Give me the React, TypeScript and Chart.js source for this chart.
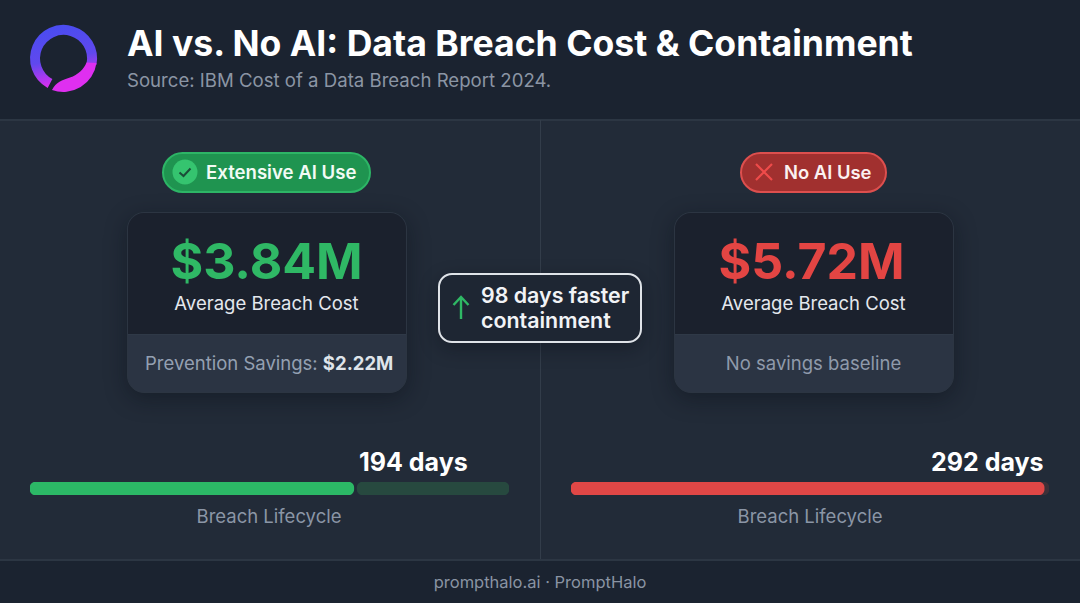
import { useEffect, useRef, type CSSProperties } from "react";
import { Chart, registerables } from "chart.js";

Chart.register(...registerables);

const categories = ["Breach Lifecycle"];
const aiDays = [194];
const noAiDays = [292];
// unfilled part of each track, in days (start, end)
const aiTrack: [number, number][] = [[196, 287]];
const noAiTrack: [number, number][] = [[0, 295]];
const aiAxisMax = 287;
const noAiAxisMax = 295;

const FONT = "Inter, 'Noto Sans', sans-serif";

function LifecycleBar({
  days,
  track,
  axisMax,
  color,
  trackColor,
  style,
}: {
  days: number[];
  track: [number, number][];
  axisMax: number;
  color: string;
  trackColor: string;
  style: CSSProperties;
}) {
  const chartRef = useRef<HTMLCanvasElement>(null);

  useEffect(() => {
    if (!chartRef.current) return;
    const chart = new Chart(chartRef.current, {
      type: "bar",
      data: {
        labels: categories,
        datasets: [
          {
            label: "Days",
            data: days,
            backgroundColor: color,
            order: 1,
            grouped: false,
            barPercentage: 1,
            categoryPercentage: 1,
            borderRadius: 6,
            borderSkipped: false,
          },
          {
            label: "Track",
            data: track as any,
            backgroundColor: trackColor,
            order: 2,
            grouped: false,
            barPercentage: 1,
            categoryPercentage: 1,
            borderRadius: 6,
            borderSkipped: false,
          },
        ],
      },
      options: {
        indexAxis: "y",
        animation: false,
        responsive: false,
        devicePixelRatio: 2,
        layout: { padding: 0 },
        plugins: { legend: { display: false }, tooltip: { enabled: false } },
        scales: {
          x: { display: false, min: 0, max: axisMax },
          y: { display: false },
        },
      },
    });
    return () => chart.destroy();
  }, []);

  return (
    <canvas
      ref={chartRef}
      width={style.width as number}
      height={style.height as number}
      style={{ position: "absolute", ...style }}
    />
  );
}

function Text({
  x,
  y,
  size,
  weight = 400,
  color,
  align = "left",
  children,
}: {
  x: number;
  y: number;
  size: number;
  weight?: number;
  color: string;
  align?: "left" | "center";
  children: React.ReactNode;
}) {
  return (
    <div
      style={{
        position: "absolute",
        left: x,
        top: y,
        transform: align === "center" ? "translate(-50%, -50%)" : "translateY(-50%)",
        fontSize: size,
        fontWeight: weight,
        color,
        whiteSpace: "nowrap",
        lineHeight: 1.2,
      }}
    >
      {children}
    </div>
  );
}

function Card({
  x,
  valueX,
  value,
  valueColor,
  bottom,
}: {
  x: number;
  valueX: number;
  value: string;
  valueColor: string;
  bottom: React.ReactNode;
}) {
  return (
    <>
      <div
        style={{
          position: "absolute",
          left: x,
          top: 212,
          width: 280,
          height: 181,
          boxSizing: "border-box",
          borderRadius: 17,
          overflow: "hidden",
          background: "#2b3443",
          border: "1px solid #2c3542",
          boxShadow: "0 6px 22px rgba(8,12,20,0.4)",
        }}
      >
        <div
          style={{
            height: 122,
            background: "#1b212d",
            borderBottom: "1px solid #2f3947",
            boxSizing: "border-box",
          }}
        />
      </div>
      <Text x={valueX} y={260.5} size={50} weight={700} color={valueColor} align="center">
        {value}
      </Text>
      <Text x={x + 139.5} y={303} size={18.5} color="#e4e8ee" align="center">
        Average Breach Cost
      </Text>
      {bottom}
    </>
  );
}

export default function App() {
  return (
    <div
      style={{
        position: "fixed",
        left: 0,
        top: 0,
        width: 1080,
        height: 603,
        overflow: "hidden",
        background: "#222b38",
        fontFamily: FONT,
      }}
    >
      {/* header */}
      <div
        style={{
          position: "absolute",
          left: 0,
          top: 0,
          width: 1080,
          height: 121,
          boxSizing: "border-box",
          background: "#1b2330",
          borderBottom: "2px solid #2c3643",
        }}
      />
      <svg width={80} height={80} viewBox="0 0 80 80" style={{ position: "absolute", left: 24, top: 19 }}>
        <defs>
          <linearGradient id="ring" gradientUnits="userSpaceOnUse" x1="36" y1="8" x2="48" y2="70">
            <stop offset="0" stopColor="#4b4cf0" />
            <stop offset="0.5" stopColor="#6048ee" />
            <stop offset="0.9" stopColor="#dc2ef0" />
          </linearGradient>
        </defs>
        <path
          d="M 26 64.5 A 28.5 28.5 0 1 1 67.5 45"
          fill="none"
          stroke="url(#ring)"
          strokeWidth={10}
        />
        <path
          d="M 28 71 C 32 63 38 61 46 58.5 C 54 56 60 50 62.5 43.5 L 72.5 44 A 33.5 33.5 0 0 1 28 71 Z"
          fill="#df2ff0"
        />
      </svg>
      <Text x={127} y={44} size={35.6} weight={700} color="#ffffff">
        AI vs. No AI: Data Breach Cost &amp; Containment
      </Text>
      <Text x={127} y={80} size={18.6} color="#8b95a4">
        Source: IBM Cost of a Data Breach Report 2024.
      </Text>

      {/* centre divider */}
      <div style={{ position: "absolute", left: 540, top: 120, width: 1, height: 440, background: "#333d4a" }} />

      {/* left pill */}
      <div
        style={{
          position: "absolute",
          left: 162,
          top: 152,
          width: 209,
          height: 41,
          boxSizing: "border-box",
          borderRadius: 21,
          background: "#1f9450",
          border: "2px solid #2db566",
        }}
      />
      <svg width={26} height={26} viewBox="0 0 26 26" style={{ position: "absolute", left: 172, top: 159 }}>
        <circle cx={13} cy={13} r={12.5} fill="#35c46f" />
        <path d="M 7.5 13.5 L 11.5 17 L 18.5 9.5" fill="none" stroke="#1b4d38" strokeWidth={2} />
      </svg>
      <Text x={206} y={172} size={18.6} weight={600} color="#f2fbf5">
        Extensive AI Use
      </Text>

      {/* right pill */}
      <div
        style={{
          position: "absolute",
          left: 740,
          top: 152,
          width: 147,
          height: 41,
          boxSizing: "border-box",
          borderRadius: 21,
          background: "#a1302f",
          border: "2px solid #dd4f4e",
        }}
      />
      <svg width={22} height={22} viewBox="0 0 22 22" style={{ position: "absolute", left: 753, top: 161 }}>
        <path d="M 3 3 L 19 19 M 19 3 L 3 19" fill="none" stroke="#ef4b4a" strokeWidth={2.2} />
      </svg>
      <Text x={784} y={172} size={18.4} weight={600} color="#fbf1f1">
        No AI Use
      </Text>

      <Card
        x={127}
        valueX={266.5}
        value="$3.84M"
        valueColor="#2fb865"
        bottom={
          <Text x={145} y={363} size={18.5} color="#94a0b2">
            Prevention Savings: <b style={{ color: "#dfe4ea", fontWeight: 700 }}>$2.22M</b>
          </Text>
        }
      />
      <Card
        x={674}
        valueX={811.5}
        value="$5.72M"
        valueColor="#e34543"
        bottom={
          <Text x={813.5} y={363} size={18.5} color="#8f9aab" align="center">
            No savings baseline
          </Text>
        }
      />

      {/* delta callout */}
      <div
        style={{
          position: "absolute",
          left: 438,
          top: 273,
          width: 204,
          height: 70,
          boxSizing: "border-box",
          borderRadius: 14,
          background: "#1e2633",
          border: "2px solid #dfe3e8",
          boxShadow: "0 6px 18px rgba(8,12,20,0.35)",
        }}
      />
      <svg width={20} height={28} viewBox="0 0 20 28" style={{ position: "absolute", left: 451, top: 294 }}>
        <path d="M 10 25 L 10 3 M 2.5 11 L 10 3 L 17.5 11" fill="none" stroke="#2fb865" strokeWidth={2.4} />
      </svg>
      <Text x={481} y={295.5} size={21.4} weight={600} color="#f1f3f6">
        98 days faster
      </Text>
      <Text x={481} y={320.5} size={21.4} weight={600} color="#f1f3f6">
        containment
      </Text>

      {/* lifecycle bars */}
      <Text x={359} y={461.5} size={25} weight={700} color="#ffffff">
        194 days
      </Text>
      <LifecycleBar
        days={aiDays}
        track={aiTrack}
        axisMax={aiAxisMax}
        color="#2cb866"
        trackColor="#27493f"
        style={{ left: 30, top: 482, width: 479, height: 13 }}
      />
      <Text x={269} y={515.5} size={18.5} color="#8b96a6" align="center">
        {categories[0]}
      </Text>

      <Text x={931} y={461.5} size={25} weight={700} color="#ffffff">
        292 days
      </Text>
      <LifecycleBar
        days={noAiDays}
        track={noAiTrack}
        axisMax={noAiAxisMax}
        color="#e04746"
        trackColor="#3e3038"
        style={{ left: 571, top: 482, width: 478, height: 13 }}
      />
      <Text x={810} y={515.5} size={18.5} color="#8b96a6" align="center">
        {categories[0]}
      </Text>

      {/* footer */}
      <div
        style={{
          position: "absolute",
          left: 0,
          top: 559,
          width: 1080,
          height: 44,
          boxSizing: "border-box",
          background: "#1b2330",
          borderTop: "2px solid #2c3643",
        }}
      />
      <Text x={540} y={583} size={16.5} color="#8a94a3" align="center">
        prompthalo.ai · PromptHalo
      </Text>
    </div>
  );
}
